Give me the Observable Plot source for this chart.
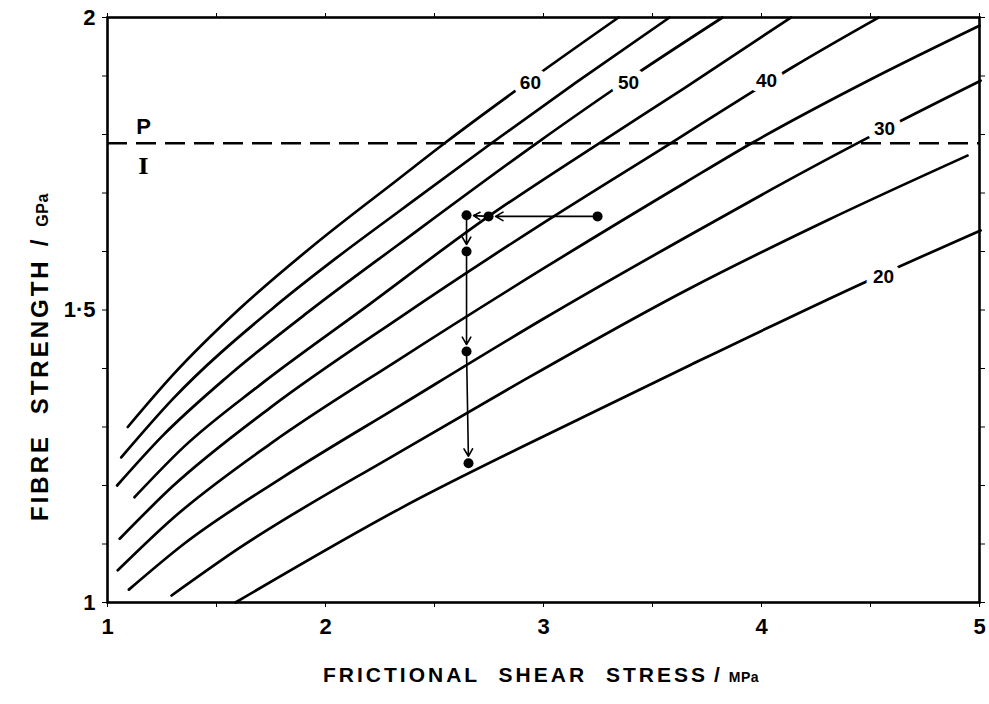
<!DOCTYPE html>
<html><head><meta charset="utf-8">
<script src="https://cdn.jsdelivr.net/npm/d3@7"></script>
<script src="https://cdn.jsdelivr.net/npm/@observablehq/plot@0.6"></script>
<style>
body{margin:0;background:#fff;}
#chart{width:989px;height:704px;}
</style></head><body><div id="chart"></div>
<script>
// ---- data ----
const curveNames = ["60", "55", "50", "45", "40", "35", "30", "25", "20"];
const c60x = [1.093, 1.300, 1.606, 1.950, 2.335, 2.546, 2.950, 3.344];
const c60y = [1.300, 1.389, 1.502, 1.612, 1.724, 1.785, 1.896, 2.000];
const c55x = [1.063, 1.300, 1.752, 2.050, 2.335, 2.761, 3.150, 3.578];
const c55y = [1.248, 1.348, 1.501, 1.589, 1.668, 1.785, 1.889, 2.000];
const c50x = [1.044, 1.250, 1.550, 1.936, 2.335, 2.968, 3.400, 3.821];
const c50y = [1.200, 1.284, 1.386, 1.501, 1.612, 1.785, 1.897, 2.000];
const c45x = [1.124, 1.350, 1.700, 2.170, 2.748, 3.255, 3.650, 4.135];
const c45y = [1.180, 1.266, 1.372, 1.501, 1.660, 1.785, 1.880, 2.000];
const c40x = [1.056, 1.300, 1.750, 2.344, 3.000, 3.583, 3.963, 4.142, 4.537];
const c40y = [1.109, 1.199, 1.334, 1.488, 1.649, 1.785, 1.874, 1.915, 2.000];
const c35x = [1.047, 1.300, 1.750, 2.344, 3.000, 3.651, 3.954, 4.500, 5.000];
const c35y = [1.055, 1.144, 1.272, 1.417, 1.571, 1.718, 1.785, 1.894, 1.986];
const c30x = [1.098, 1.350, 1.800, 2.344, 3.000, 3.651, 4.050, 4.491, 5.005];
const c30y = [1.022, 1.100, 1.213, 1.337, 1.485, 1.624, 1.707, 1.795, 1.892];
const c25x = [1.294, 1.600, 2.344, 2.900, 3.651, 4.300, 4.945];
const c25y = [1.012, 1.092, 1.258, 1.378, 1.533, 1.653, 1.764];
const c20x = [1.587, 2.344, 3.216, 3.674, 4.477, 5.005];
const c20y = [1.000, 1.161, 1.323, 1.406, 1.548, 1.636];

const labelText = ["60", "50", "40", "30", "20"];
const labelX = [2.940, 3.390, 4.023, 4.564, 4.560];
const labelY = [1.889, 1.889, 1.892, 1.810, 1.557];

const boundaryY = 1.785;           // P / I dashed boundary
const boundaryText = ["P", "I"];

const pathX = [3.248, 2.748, 2.647, 2.647, 2.647, 2.656];
const pathY = [1.660, 1.660, 1.662, 1.600, 1.429, 1.238];

const xTickValues = [1, 1.5, 2, 2.5, 3, 3.5, 4, 4.5, 5];
const xTickLabels = ["1", "", "2", "", "3", "", "4", "", "5"];
const yTickValues = [1, 1.1, 1.2, 1.3, 1.4, 1.5, 1.6, 1.7, 1.8, 1.9, 2];
const yTickLabels = ["1", "", "", "", "", "1·5", "", "", "", "", "2"];

// ---- build tables ----
const xs = [c60x, c55x, c50x, c45x, c40x, c35x, c30x, c25x, c20x];
const ys = [c60y, c55y, c50y, c45y, c40y, c35y, c30y, c25y, c20y];
const lines = [];
curveNames.forEach((n, i) => xs[i].forEach((x, j) => lines.push({curve: n, x, y: ys[i][j]})));
const labels = labelText.map((t, i) => ({t, x: labelX[i], y: labelY[i]}));
const dots = pathX.map((x, i) => ({x, y: pathY[i]}));
const arrows = pathX.slice(1).map((x, i) => ({x1: pathX[i], y1: pathY[i], x2: x, y2: pathY[i + 1]}));

const FONT = "Liberation Sans, Arial, sans-serif";
const svg = Plot.plot({
  width: 989, height: 704,
  marginLeft: 107, marginRight: 10, marginTop: 17, marginBottom: 102,
  style: {fontFamily: FONT, fontWeight: "bold", background: "white", color: "black"},
  x: {domain: [1, 5]},
  y: {domain: [1, 2]},
  marks: [
    Plot.ruleY([boundaryY], {x1: 1, x2: 5, stroke: "black", strokeWidth: 2.6, strokeDasharray: "20,9"}),
    Plot.line(lines, {x: "x", y: "y", z: "curve", stroke: "black", strokeWidth: 2.7, curve: "monotone-x"}),
    Plot.text(labels, {x: "x", y: "y", text: "t", fill: "white", stroke: "white", strokeWidth: 14, fontSize: 19, fontWeight: "bold"}),
    Plot.text(labels, {x: "x", y: "y", text: "t", fill: "black", fontSize: 19, fontWeight: "bold"}),
    Plot.text([boundaryText[0]], {x: 1.165, y: boundaryY, text: d => d, dy: -16, fontSize: 22, fontWeight: "bold"}),
    Plot.text([boundaryText[1]], {x: 1.165, y: boundaryY, text: d => d, dy: 24, fontSize: 22, fontWeight: "bold", fontFamily: "DejaVu Serif, serif"}),
    Plot.arrow(arrows, {x1: "x1", y1: "y1", x2: "x2", y2: "y2", stroke: "black", strokeWidth: 1.6, headLength: 8, insetStart: 5, insetEnd: 7}),
    Plot.dot(dots, {x: "x", y: "y", r: 5, fill: "black"}),
    Plot.axisX({anchor: "bottom", ticks: xTickValues, tickFormat: (d, i) => xTickLabels[i], tickSize: 5, tickPadding: 11, tickWidth: 2, fontSize: 22, label: null}),
    Plot.axisX({anchor: "top", ticks: xTickValues, tickFormat: () => "", tickSize: 5, label: null}),
    Plot.axisY({anchor: "left", ticks: yTickValues, tickFormat: (d, i) => yTickLabels[i], tickSize: 5, tickPadding: 7, fontSize: 22, label: null}),
    Plot.axisY({anchor: "right", ticks: yTickValues, tickFormat: () => "", tickSize: 5, label: null}),
    Plot.frame({stroke: "black", strokeWidth: 2.6})
  ]
});

const s = d3.select(svg);
const xt = s.append("text").attr("x", 323).attr("y", 682).attr("text-anchor", "start")
  .attr("font-family", FONT).attr("font-weight", "bold").attr("font-size", 21)
  .attr("letter-spacing", "3px").attr("word-spacing", "10px").attr("fill", "black");
xt.append("tspan").text("FRICTIONAL SHEAR STRESS");
xt.append("tspan").attr("dx", 6).text("/");
xt.append("tspan").attr("dx", 6).attr("font-size", 14).attr("letter-spacing", "0.5px").text("MPa");

const yt = s.append("text").attr("transform", "translate(48,521) rotate(-90)").attr("text-anchor", "start")
  .attr("font-family", FONT).attr("font-weight", "bold").attr("font-size", 24)
  .attr("letter-spacing", "3px").attr("word-spacing", "10px").attr("fill", "black");
yt.append("tspan").text("FIBRE STRENGTH");
yt.append("tspan").attr("dx", 12).text("/");
yt.append("tspan").attr("dx", 10).attr("font-size", 16).attr("letter-spacing", "0.5px").text("GPa");

document.getElementById("chart").appendChild(svg);
</script></body></html>
